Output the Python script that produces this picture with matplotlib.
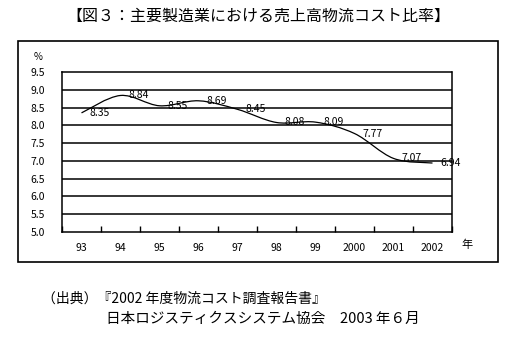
import matplotlib
matplotlib.use("Agg")
import matplotlib.pyplot as plt
from matplotlib.path import Path
from matplotlib.patches import PathPatch, Rectangle
import numpy as np

plt.rcParams['font.family'] = ['Noto Sans CJK JP', 'DejaVu Sans']

# =================
# DANE
# =================
years = ["93", "94", "95", "96", "97", "98", "99", "2000", "2001", "2002"]
ratio = [8.35, 8.84, 8.55, 8.69, 8.45, 8.08, 8.09, 7.77, 7.07, 6.94]
ratio_labels = ["8.35", "8.84", "8.55", "8.69", "8.45", "8.08", "8.09", "7.77", "7.07", "6.94"]
y_ticks = [5.0, 5.5, 6.0, 6.5, 7.0, 7.5, 8.0, 8.5, 9.0, 9.5]

title = "【図３：主要製造業における売上高物流コスト比率】"
source1 = "（出典）『2002 年度物流コスト調査報告書』"
source2 = "日本ロジスティクスシステム協会　2003 年６月"

fig = plt.figure(figsize=(5.2, 3.4), dpi=100)

# outer frame
fig.patches.append(Rectangle((18 / 520, 1 - 262 / 340), 480 / 520, 221 / 340,
                             transform=fig.transFigure, fill=False,
                             edgecolor="black", linewidth=1.2))

ax = fig.add_axes([62 / 520, 1 - 232 / 340, 390 / 520, 160 / 340])

# grid lines
for v in y_ticks[1:-1]:
    ax.axhline(v, color="black", linewidth=1.1, zorder=1)

# smoothed line (bezier through the points)
xs = np.arange(len(ratio)) + 0.5
pts = np.column_stack([xs, ratio])
verts = [pts[0]]
codes = [Path.MOVETO]
for i in range(len(pts) - 1):
    p0 = pts[i - 1] if i > 0 else pts[i]
    p1 = pts[i]
    p2 = pts[i + 1]
    p3 = pts[i + 2] if i + 2 < len(pts) else pts[i + 1]
    c1 = p1 + (p2 - p0) / 6
    c2 = p2 - (p3 - p1) / 6
    verts += [c1, c2, p2]
    codes += [Path.CURVE4] * 3
ax.add_patch(PathPatch(Path(verts, codes), fill=False, edgecolor="black",
                       linewidth=0.9, zorder=3))

for x, v, s in zip(xs, ratio, ratio_labels):
    ax.annotate(s, (x, v), xytext=(6, 0), textcoords="offset points",
                ha="left", va="center", fontsize=7.5, zorder=4)

ax.set_xlim(0, 10)
ax.set_ylim(5.0, 9.5)
ax.set_yticks(y_ticks)
ax.set_yticklabels([f"{v:.1f}" for v in y_ticks], fontsize=7.5)
ax.set_xticks(range(0, 11))
ax.set_xticklabels([])
ax.set_xticks(xs, minor=True)
ax.set_xticklabels(years, minor=True, fontsize=7.5)
ax.tick_params(axis="x", which="major", direction="in", length=4, width=1)
ax.tick_params(axis="x", which="minor", length=0, pad=8)
ax.tick_params(axis="y", length=0, pad=12)

for side in ["left", "bottom"]:
    ax.spines[side].set_linewidth(1.1)
for side in ["top", "right"]:
    ax.spines[side].set_linestyle((0, (1, 1)))
    ax.spines[side].set_linewidth(1.1)

fig.text(258 / 520, 1 - 16 / 340, title, ha="center", va="center", fontsize=11.5)
fig.text(34 / 520, 1 - 57 / 340, "%", ha="left", va="center", fontsize=7)
fig.text(461 / 520, 1 - 245 / 340, "年", ha="left", va="center", fontsize=8)
fig.text(42 / 520, 1 - 299 / 340, source1, ha="left", va="center", fontsize=10)
fig.text(106 / 520, 1 - 319 / 340, source2, ha="left", va="center", fontsize=10.5)

fig.savefig("out.png", dpi=100)
